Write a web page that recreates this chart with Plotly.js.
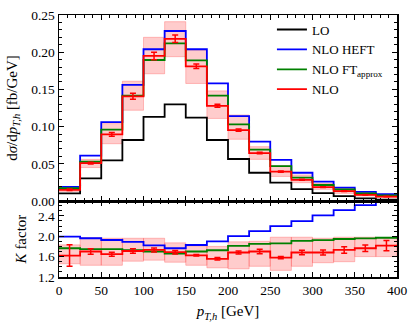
<!DOCTYPE html>
<html>
<head>
<meta charset="utf-8">
<script src="https://cdn.plot.ly/plotly-3.0.1.min.js"></script>
<style>
  html, body { margin: 0; padding: 0; background: #fff; }
  #plot { width: 416px; height: 324px; }
</style>
</head>
<body>
<div id="plot"></div>
<script>
// bin edges in GeV (16 bins of 25 GeV)
const binEdges = [0, 25, 50, 75, 100, 125, 150, 175, 200, 225, 250, 275, 300, 325, 350, 375, 400];

// dsigma/dpT [fb/GeV]
const lo   = [0.0103, 0.0305, 0.0545, 0.082, 0.113, 0.130, 0.112, 0.082, 0.0565, 0.038, 0.0246, 0.0160, 0.0105, 0.0067, 0.0035, 0.0020];
const heft = [0.019, 0.061, 0.106, 0.156, 0.204, 0.2285, 0.204, 0.158, 0.114, 0.0797, 0.0553, 0.038, 0.026, 0.018, 0.0123, 0.0094];
const ft   = [0.0172, 0.0528, 0.096, 0.1416, 0.1895, 0.212, 0.189, 0.1416, 0.103, 0.069, 0.047, 0.0315, 0.0215, 0.0155, 0.0103, 0.0076];
const nlo  = [0.0150, 0.0510, 0.0896, 0.1407, 0.195, 0.218, 0.181, 0.128, 0.0954, 0.0645, 0.0394, 0.0285, 0.0188, 0.0133, 0.0083, 0.0060];
const nloErr = [0.001, 0.0012, 0.0025, 0.004, 0.005, 0.005, 0.003, 0.002, 0.0015, 0.001, 0.0008, 0.0006, 0.0005, 0.0004, 0.0003, 0.0003];
const nloLo  = [0.013, 0.045, 0.077, 0.122, 0.171, 0.194, 0.158, 0.111, 0.083, 0.056, 0.033, 0.0246, 0.0157, 0.0103, 0.0067, 0.0045];
const nloHi  = [0.019, 0.056, 0.104, 0.161, 0.220, 0.241, 0.203, 0.148, 0.1156, 0.073, 0.0475, 0.035, 0.0237, 0.017, 0.0117, 0.009];

// K factors
const kHeft = [1.99, 1.96, 1.926, 1.887, 1.82, 1.764, 1.828, 1.90, 2.00, 2.10, 2.198, 2.295, 2.41, 2.51, 2.61, 2.80];
const kFt   = [1.764, 1.745, 1.745, 1.725, 1.70, 1.66, 1.70, 1.725, 1.81, 1.85, 1.86, 1.91, 1.925, 1.945, 1.958, 1.97];
const kNlo  = [1.62, 1.70, 1.647, 1.71, 1.73, 1.686, 1.625, 1.556, 1.68, 1.70, 1.58, 1.68, 1.68, 1.73, 1.764, 1.815];
const kErr  = [0.21, 0.055, 0.04, 0.045, 0.04, 0.035, 0.015, 0.025, 0.03, 0.045, 0.02, 0.045, 0.05, 0.065, 0.065, 0.1];
const kLo   = [1.46, 1.43, 1.43, 1.51, 1.53, 1.49, 1.43, 1.38, 1.36, 1.41, 1.33, 1.41, 1.48, 1.50, 1.60, 1.60];
const kHi   = [1.83, 1.97, 1.96, 1.96, 1.96, 1.87, 1.81, 1.80, 1.89, 1.90, 1.98, 1.98, 1.96, 1.98, 1.98, 1.97];

const names = ["LO", "NLO HEFT", "NLO FT<sub>approx</sub>", "NLO"];
const colors = ["#000000", "#0000ff", "#008000", "#ff0000"];

const centers = binEdges.slice(0, -1).map((e, i) => (e + binEdges[i + 1]) / 2);
const widths = binEdges.slice(0, -1).map((e, i) => binEdges[i + 1] - e);

const SERIF = "Liberation Serif";
function f(size) { return { family: SERIF, size, color: "#000" }; }

function step(vals, name, color, xa, ya, legend) {
  return {
    type: "scatter", mode: "lines",
    x: binEdges, y: vals.concat([vals[vals.length - 1]]),
    line: { shape: "hv", width: 1.8, color },
    name, showlegend: legend, xaxis: xa, yaxis: ya, hoverinfo: "skip"
  };
}

function band(lower, upper, xa, ya) {
  return {
    type: "bar", x: centers, width: widths, base: lower,
    y: upper.map((u, i) => u - lower[i]),
    marker: { color: "rgba(255,0,0,0.2)", line: { color: "rgba(255,80,80,0.35)", width: 1 } },
    showlegend: false, xaxis: xa, yaxis: ya, hoverinfo: "skip"
  };
}

function errs(vals, e, xa, ya) {
  return {
    type: "scatter", mode: "markers", x: centers, y: vals,
    marker: { size: 1, color: "#ff0000" },
    error_y: { type: "data", array: e, visible: true, color: "#ff0000", thickness: 1.5, width: 3 },
    showlegend: false, xaxis: xa, yaxis: ya, hoverinfo: "skip"
  };
}

const traces = [
  band(nloLo, nloHi, "x2", "y2"),
  band(kLo, kHi, "x", "y"),
  step(lo, names[0], colors[0], "x2", "y2", true),
  step(heft, names[1], colors[1], "x2", "y2", true),
  step(ft, names[2], colors[2], "x2", "y2", true),
  step(nlo, names[3], colors[3], "x2", "y2", true),
  errs(nlo, nloErr, "x2", "y2"),
  step(kHeft, "NLO HEFT K", colors[1], "x", "y", false),
  step(kFt, "NLO FT K", colors[2], "x", "y", false),
  step(kNlo, "NLO K", colors[3], "x", "y", false),
  errs(kNlo, kErr, "x", "y")
];

const axisBase = {
  showline: true, linecolor: "#000", linewidth: 1.5, mirror: "allticks",
  ticks: "inside", ticklen: 5, tickwidth: 1, tickcolor: "#000",
  showgrid: false, zeroline: false, fixedrange: true, tickfont: f(13.5)
};

const layout = {
  width: 416, height: 324,
  margin: { l: 59, r: 19, t: 15, b: 47, autoexpand: false },
  paper_bgcolor: "#fff", plot_bgcolor: "#fff",
  font: f(13.5),
  barmode: "overlay", bargap: 0,
  showlegend: true,
  legend: {
    x: 0.63, xanchor: "left", y: 0.83, yanchor: "middle",
    bgcolor: "rgba(0,0,0,0)", borderwidth: 0, font: f(13), tracegroupgap: 0
  },
  xaxis: Object.assign({}, axisBase, {
    domain: [0, 1], anchor: "y", range: [0, 400], tick0: 0, dtick: 50,
    minor: { ticks: "inside", ticklen: 3, dtick: 10, tickcolor: "#000", showgrid: false },
    title: { text: "<i>p</i><sub><i>T,h</i></sub> [GeV]", font: f(15), standoff: 9 }
  }),
  xaxis2: Object.assign({}, axisBase, {
    domain: [0, 1], anchor: "y2", matches: "x", range: [0, 400], tick0: 0, dtick: 50,
    showticklabels: false,
    minor: { ticks: "inside", ticklen: 3, dtick: 10, tickcolor: "#000", showgrid: false }
  }),
  yaxis: Object.assign({}, axisBase, {
    domain: [0, 0.29], anchor: "x", range: [1.2, 2.69], tick0: 1.2, dtick: 0.4,
    tickformat: ".1f",
    minor: { ticks: "inside", ticklen: 3, dtick: 0.1, tickcolor: "#000", showgrid: false },
    title: { text: "<i>K</i> factor", font: f(15), standoff: 7 }
  }),
  yaxis2: Object.assign({}, axisBase, {
    domain: [0.29, 1], anchor: "x2", range: [0, 0.25], tick0: 0, dtick: 0.05,
    tickformat: ".2f",
    minor: { ticks: "inside", ticklen: 3, dtick: 0.01, tickcolor: "#000", showgrid: false },
    title: { text: "d<i>σ</i>/d<i>p</i><sub><i>T,h</i></sub> [fb/GeV]", font: f(15), standoff: 10 }
  })
};

Plotly.newPlot("plot", traces, layout, { staticPlot: true, displayModeBar: false });
</script>
</body>
</html>
